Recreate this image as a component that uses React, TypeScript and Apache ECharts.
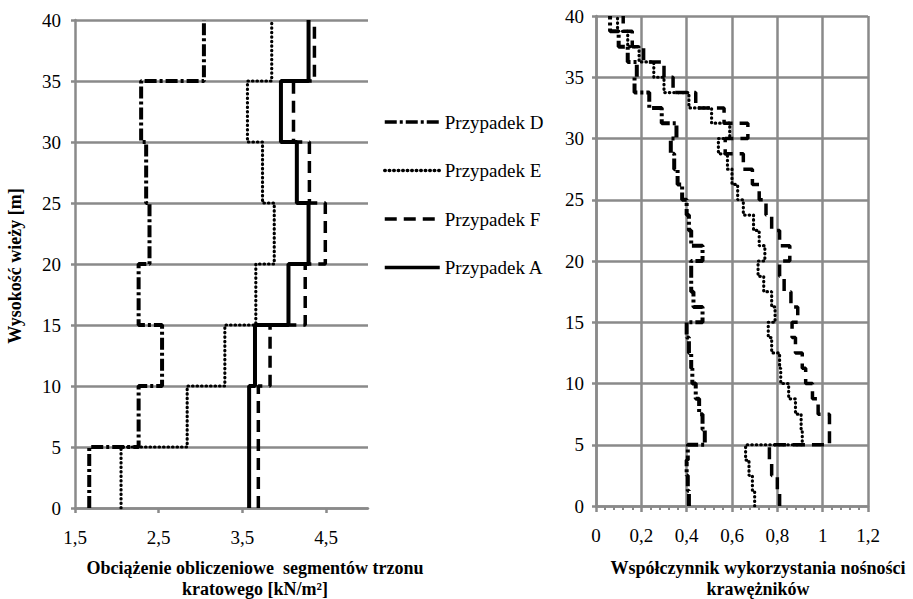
import React, { useEffect, useRef } from "react";
import * as echarts from "echarts";

// ---------- DATA ----------
const seriesNames = ["Przypadek D", "Przypadek E", "Przypadek F", "Przypadek A"];

// Left chart: design load per 5 m segment of the tower, bottom to top [kN/m2]
const segmentHeight = 5;
const loadD = [1.67, 2.26, 2.54, 2.26, 2.39, 2.35, 2.29, 3.04];
const loadE = [2.05, 2.84, 3.29, 3.66, 3.88, 3.74, 3.56, 3.85];
const loadF = [3.69, 3.69, 3.83, 4.25, 4.49, 4.3, 4.11, 4.36];
const loadA = [3.58, 3.58, 3.65, 4.05, 4.29, 4.15, 3.96, 4.29];

// Right chart: utilisation factor of chords per 1.25 m panel, bottom to top
const panelHeight = 1.25;
const utilD = [
  0.41, 0.405, 0.4, 0.405, 0.48, 0.47, 0.455, 0.44, 0.425, 0.42, 0.41, 0.4,
  0.47, 0.43, 0.42, 0.42, 0.47, 0.42, 0.41, 0.4, 0.38, 0.36, 0.345, 0.33,
  0.355, 0.29, 0.235, 0.17, 0.18, 0.14, 0.1, 0.062,
];
const utilE = [
  0.7, 0.69, 0.675, 0.66, 0.91, 0.905, 0.88, 0.85, 0.815, 0.81, 0.775, 0.76,
  0.79, 0.775, 0.74, 0.715, 0.745, 0.72, 0.695, 0.65, 0.625, 0.6, 0.58, 0.54,
  0.59, 0.51, 0.41, 0.3, 0.255, 0.19, 0.14, 0.095,
];
const utilF = [
  0.81, 0.8, 0.775, 0.765, 1.03, 1.03, 0.98, 0.955, 0.925, 0.91, 0.88, 0.865,
  0.89, 0.86, 0.83, 0.81, 0.855, 0.81, 0.775, 0.75, 0.72, 0.69, 0.65, 0.57,
  0.67, 0.565, 0.44, 0.34, 0.3, 0.21, 0.16, 0.12,
];

// Axis ticks
const heightMin = 0;
const heightMax = 40;
const heightStep = 5;
const loadMin = 1.5;
const loadMax = 5;
const loadStep = 1;
const utilMin = 0;
const utilMax = 1.2;
const utilStep = 0.2;

// ---------- STYLE ----------
const FONT = "Liberation Serif";
const GRAY = "#8a8a8a";

const styleD = { color: "#000", width: 4, type: [12, 3, 3, 3], cap: "butt" };
const styleE = { color: "#000", width: 3.2, type: [0.5, 4], cap: "round" };
const styleF = { color: "#000", width: 3.5, type: [12, 7], cap: "butt" };
const styleA = { color: "#000", width: 4, type: "solid", cap: "butt" };

function steps(values: number[], h: number): number[][] {
  const pts: number[][] = [];
  values.forEach((v, i) => {
    pts.push([v, i * h]);
    pts.push([v, (i + 1) * h]);
  });
  return pts;
}

function comma(v: number, digits: number): string {
  const r = Math.round(v * 1000) / 1000;
  if (digits === 0) return String(r).replace(".", ",");
  return r.toFixed(digits).replace(".", ",");
}

export default function App() {
  const ref = useRef<HTMLDivElement>(null);

  useEffect(() => {
    document.body.style.margin = "0";
    document.body.style.overflow = "hidden";
    if (!ref.current) return;
    const chart = echarts.init(ref.current, undefined, { renderer: "svg" });

    const axisLabelBase = { color: "#000", fontFamily: FONT, fontSize: 19 };
    const grayLine = { color: GRAY, width: 2.5 };

    const mkLine = (
      name: string,
      data: number[][],
      ls: any,
      idx: number,
      z: number
    ) => ({
      name,
      type: "line",
      xAxisIndex: idx,
      yAxisIndex: idx,
      data,
      symbol: "none",
      symbolSize: 0,
      showSymbol: false,
      lineStyle: ls,
      itemStyle: { color: "#000" },
      z,
      silent: true,
    });

    const titleStyle = (text: string) => ({
      text,
      font: `bold 18px ${FONT}`,
      fill: "#000",
      align: "center",
      verticalAlign: "middle",
      textAlign: "center",
      textVerticalAlign: "middle",
    });

    const option: any = {
      animation: false,
      backgroundColor: "#fff",
      textStyle: { fontFamily: FONT },
      grid: [
        { left: 75, top: 20, width: 293, height: 488 },
        { left: 596, top: 16, width: 272, height: 490 },
      ],
      xAxis: [
        {
          gridIndex: 0,
          type: "value",
          min: loadMin,
          max: loadMax,
          interval: loadStep,
          axisLine: { show: true, lineStyle: grayLine },
          axisTick: { show: true, length: 5, lineStyle: grayLine },
          axisLabel: {
            ...axisLabelBase,
            margin: 20,
            showMaxLabel: false,
            formatter: (v: number) => comma(v, 1),
          },
          splitLine: { show: false },
        },
        {
          gridIndex: 1,
          type: "value",
          min: utilMin,
          max: utilMax,
          interval: utilStep,
          axisLine: { show: true, lineStyle: grayLine },
          axisTick: { show: true, length: 6, lineStyle: grayLine },
          minorTick: { show: true, splitNumber: 5, length: 4, lineStyle: { color: GRAY, width: 2 } },
          axisLabel: {
            ...axisLabelBase,
            margin: 20,
            formatter: (v: number) => comma(v, 0),
          },
          splitLine: { show: true, lineStyle: grayLine },
        },
      ],
      yAxis: [
        {
          gridIndex: 0,
          type: "value",
          min: heightMin,
          max: heightMax,
          interval: heightStep,
          axisLine: { show: true, lineStyle: grayLine },
          axisTick: { show: true, length: 4, lineStyle: grayLine },
          axisLabel: { ...axisLabelBase, margin: 14 },
          splitLine: { show: true, lineStyle: grayLine },
        },
        {
          gridIndex: 1,
          type: "value",
          min: heightMin,
          max: heightMax,
          interval: heightStep,
          axisLine: { show: true, lineStyle: grayLine },
          axisTick: { show: true, length: 4, lineStyle: grayLine },
          axisLabel: { ...axisLabelBase, margin: 12 },
          splitLine: { show: true, lineStyle: grayLine },
        },
      ],
      legend: {
        data: seriesNames,
        orient: "vertical",
        left: 378,
        top: 107,
        itemWidth: 55,
        itemHeight: 20,
        itemGap: 28.5,
        selectedMode: false,
        itemStyle: { opacity: 0, borderWidth: 0 },
        lineStyle: { width: 3.5 },
        textStyle: { color: "#000", fontFamily: FONT, fontSize: 19, lineHeight: 20 },
      },
      series: [
        mkLine(seriesNames[0], steps(loadD, segmentHeight), styleD, 0, 3),
        mkLine(seriesNames[1], steps(loadE, segmentHeight), styleE, 0, 3),
        mkLine(seriesNames[2], steps(loadF, segmentHeight), styleF, 0, 3),
        mkLine(seriesNames[3], steps(loadA, segmentHeight), styleA, 0, 4),
        mkLine(seriesNames[0], steps(utilD, panelHeight), styleD, 1, 3),
        mkLine(seriesNames[1], steps(utilE, panelHeight), styleE, 1, 3),
        mkLine(seriesNames[2], steps(utilF, panelHeight), styleF, 1, 3),
      ],
      graphic: [
        { type: "text", x: 15, y: 266, rotation: Math.PI / 2, style: titleStyle("Wysokość wieży [m]") },
        { type: "text", x: 255, y: 568, style: titleStyle("Obciążenie obliczeniowe  segmentów trzonu") },
        { type: "text", x: 255, y: 589, style: titleStyle("kratowego [kN/m²]") },
        { type: "text", x: 758, y: 568, style: titleStyle("Współczynnik wykorzystania nośności") },
        { type: "text", x: 758, y: 589, style: titleStyle("krawężników") },
      ],
    };

    chart.setOption(option);
    return () => {
      chart.dispose();
    };
  }, []);

  return <div ref={ref} style={{ width: 913, height: 599 }} />;
}
